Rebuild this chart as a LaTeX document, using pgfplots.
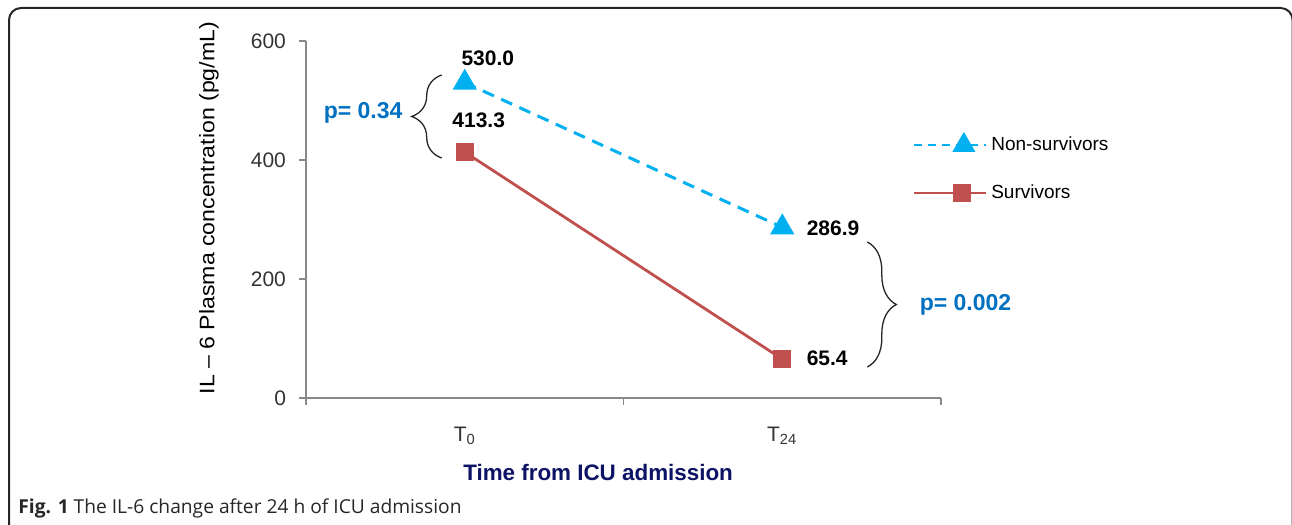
\documentclass[border=0pt]{standalone}
\usepackage{fontspec}
\setmainfont{Liberation Sans}
\newfontfamily\capfont{Open Sans}
\usepackage{pgfplots}
\pgfplotsset{compat=1.18}
\usetikzlibrary{decorations.pathreplacing}
\definecolor{surv}{HTML}{C0504D}
\definecolor{nonsurv}{HTML}{00B0F0}
\definecolor{pblue}{HTML}{0070C0}
\definecolor{navy}{RGB}{12,18,100}
\definecolor{axgray}{HTML}{888888}
\definecolor{ticktext}{HTML}{333333}

\pgfplotsset{
  nsleg/.style={legend image code/.code={
    \draw[mark repeat=2, mark phase=2, ##1, line width=1.2pt, dash pattern=on 4pt off 3pt] plot coordinates {(0pt,0pt) (25pt,0pt) (36pt,0pt)};}},
  svleg/.style={legend image code/.code={
    \path (0pt,0pt) -- (36pt,0pt);
    \draw[mark repeat=2, mark phase=2, ##1, line width=1pt] plot coordinates {(10.5pt,0pt) (24pt,0pt) (35.5pt,0pt)};}},
}

\begin{document}
\begin{tikzpicture}
\useasboundingbox (0,0) rectangle (646pt,262.5pt);
\begin{scope}
  \clip (0,0) rectangle (646pt,262.5pt);
  \draw[line width=1pt, black!85, rounded corners=6pt] (4.5pt,-20pt) rectangle (646.3pt,258.5pt);
\end{scope}

\begin{axis}[
  at={(153pt,63.5pt)}, anchor=south west,
  scale only axis, width=317.5pt, height=178.5pt,
  clip=false,
  xmin=-0.5, xmax=1.5, ymin=0, ymax=600,
  axis x line=bottom, axis y line=left,
  axis line style={-, axgray, line width=0.6pt},
  tick align=outside, major tick length=3.5pt,
  tick style={axgray, line width=0.6pt},
  ytick={0,200,400,600},
  xtick={-0.5,0.5,1.5}, xticklabels={},
  extra x ticks={0,1},
  extra x tick labels={T\textsubscript{0},T\textsubscript{24}},
  extra x tick style={major tick length=0pt},
  /pgf/number format/assume math mode=true,
  ticklabel style={font=\fontsize{10.5}{12}\selectfont, text=ticktext},
  yticklabel style={xshift=-3pt},
  xticklabel style={yshift=-11pt},
  ylabel={\scalebox{1.1}[1]{IL -- 6 Plasma concentration (pg/mL)}},
  ylabel style={at={(axis description cs:-0.153,0.532)}, anchor=center, rotate=0,
    font=\fontsize{10.5}{12}\selectfont, text=black},
  xlabel={Time from ICU admission},
  xlabel style={at={(axis description cs:0.46,-0.21)}, anchor=center,
    font=\bfseries\fontsize{11.2}{13}\selectfont, text=navy},
  legend style={at={(axis description cs:0.945,0.755)}, anchor=north west,
    draw=none, fill=none, font=\fontsize{9.5}{11}\selectfont,
    row sep=11.5pt, cells={anchor=west}},
]
\addplot[nonsurv, line width=1.5pt, dash pattern=on 6pt off 4pt,
  mark=triangle*, mark size=5.5pt, mark options={solid, fill=nonsurv}, nsleg]
  coordinates {(0,530.0) (1,286.9)};
\addlegendentry{Non-survivors}
\addplot[surv, line width=1.4pt,
  mark=square*, mark size=3.9pt, mark options={fill=surv}, svleg]
  coordinates {(0,413.3) (1,65.4)};
\addlegendentry{Survivors}

% value labels
\node[font=\bfseries\fontsize{10.5}{12}\selectfont] at (axis cs:0.0726,571) {530.0};
\node[font=\bfseries\fontsize{10.5}{12}\selectfont] at (axis cs:0.044,467) {413.3};
\node[font=\bfseries\fontsize{10.5}{12}\selectfont, anchor=west, inner sep=0pt] at (axis cs:1.076,285.7) {286.9};
\node[font=\bfseries\fontsize{10.5}{12}\selectfont, anchor=west, inner sep=0pt] at (axis cs:1.076,67.2) {65.4};

% braces and p values
\draw[decorate, decoration={brace, amplitude=15pt}, line width=0.65pt, black!85]
  (axis cs:-0.0726,403.4) -- (axis cs:-0.0726,542.9);
\node[font=\bfseries\fontsize{11.5}{13}\selectfont, text=pblue, anchor=east, inner sep=0pt]
  at (axis cs:-0.195,479) {p= 0.34};
\draw[decorate, decoration={brace, amplitude=14.5pt}, line width=0.65pt, black!85]
  (axis cs:1.268,262.2) -- (axis cs:1.268,52.1);
\node[font=\bfseries\fontsize{11.5}{13}\selectfont, text=pblue, anchor=west, inner sep=0pt]
  at (axis cs:1.432,156) {p= 0.002};
\end{axis}

\node[anchor=west, inner sep=0pt, font=\capfont\fontsize{9.6}{11}\selectfont, text=black!85]
  at (9pt,8.5pt) {\textbf{Fig. 1} The IL-6 change after 24 h of ICU admission};
\end{tikzpicture}
\end{document}
